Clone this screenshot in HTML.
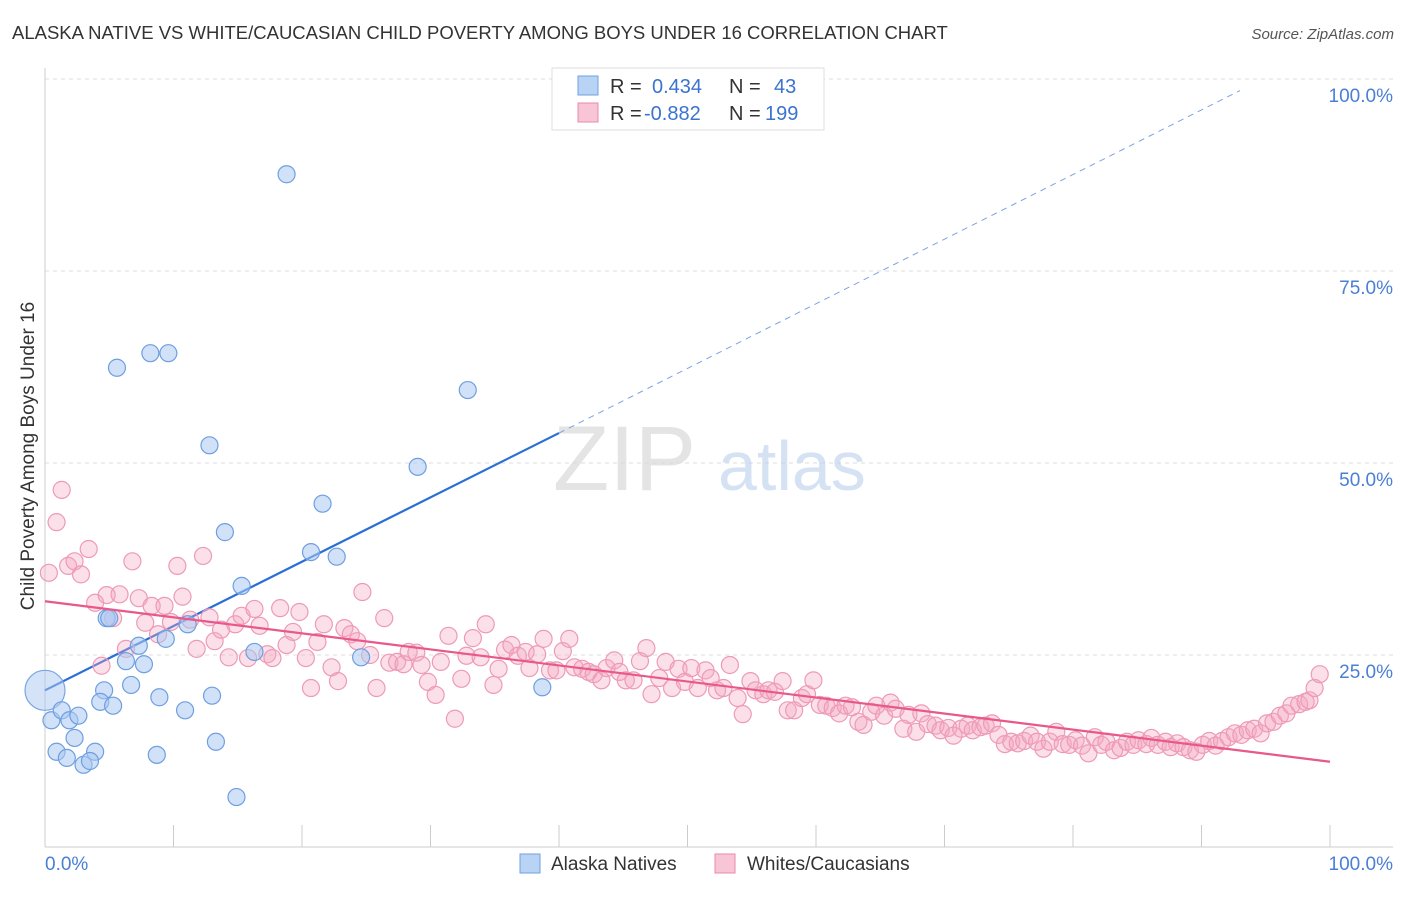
<!DOCTYPE html>
<html><head><meta charset="utf-8">
<style>
body{margin:0;background:#fff;font-family:"Liberation Sans",sans-serif;}
svg text{font-family:"Liberation Sans",sans-serif;}
</style></head>
<body>
<svg id="chart" width="1406" height="892" xmlns="http://www.w3.org/2000/svg">
<text x="12" y="39" font-size="18.5" fill="#333">ALASKA NATIVE VS WHITE/CAUCASIAN CHILD POVERTY AMONG BOYS UNDER 16 CORRELATION CHART</text>
<text x="1394" y="39" font-size="15" fill="#555" text-anchor="end" font-style="italic">Source: ZipAtlas.com</text>
<g id="grid"></g>
<g>
<text x="553" y="490" font-size="92" fill="#d9d9d9" font-family="Liberation Serif" opacity="0.7">ZIP</text>
<text x="718" y="490" font-size="70" fill="#b8cfee" opacity="0.6">atlas</text>
</g>
<g id="lines"></g>
<g id="pts"></g>
<text transform="translate(34,456) rotate(-90)" font-size="19" fill="#333" text-anchor="middle">Child Poverty Among Boys Under 16</text>
<text x="45" y="870" font-size="19" fill="#4a7fd4">0.0%</text>
<text x="1393" y="870" font-size="19" fill="#4a7fd4" text-anchor="end">100.0%</text>
<g>
<rect x="552" y="68" width="272" height="62" fill="#fff" stroke="#ddd"/>
<rect x="578" y="76" width="20" height="19" fill="#b9d3f5" stroke="#6fa0e0"/>
<rect x="578" y="103" width="20" height="19" fill="#f8c5d6" stroke="#e88aa8"/>
<text x="610" y="93" font-size="20" fill="#333">R = </text><text x="652" y="93" font-size="20" fill="#3a73d0">0.434</text>
<text x="729" y="93" font-size="20" fill="#333">N = </text><text x="774" y="93" font-size="20" fill="#3a73d0">43</text>
<text x="610" y="120" font-size="20" fill="#333">R = </text><text x="644" y="120" font-size="20" fill="#3a73d0">-0.882</text>
<text x="729" y="120" font-size="20" fill="#333">N = </text><text x="765" y="120" font-size="20" fill="#3a73d0">199</text>
</g>
<g>
<rect x="520" y="854" width="20" height="19" fill="#b9d3f5" stroke="#6fa0e0"/>
<text x="551" y="870" font-size="19" fill="#333">Alaska Natives</text>
<rect x="715" y="854" width="20" height="19" fill="#f8c5d6" stroke="#e88aa8"/>
<text x="747" y="870" font-size="19" fill="#333">Whites/Caucasians</text>
</g>
</svg>
<script>
const yTicks=[25,50,75,100];
const xTicks=[0,10,20,30,40,50,60,70,80,90,100];
const blueX=[18.8,8.2,9.6,5.6,32.9,12.8,29.0,21.6,14.0,20.7,22.7,15.3,4.8,11.1,9.4,7.3,16.3,24.6,38.7,6.3,7.7,6.7,4.6,8.9,13.0,4.3,5.3,10.9,0.5,1.3,1.9,2.6,2.3,0.9,1.7,3.9,3.0,3.5,8.7,13.3,14.9,5.0];
const blueY=[87.6,64.3,64.3,62.4,59.5,52.3,49.5,44.7,41.0,38.4,37.8,34.0,29.8,29.0,27.1,26.2,25.4,24.7,20.8,24.2,23.8,21.1,20.4,19.5,19.7,18.9,18.4,17.8,16.5,17.8,16.5,17.1,14.2,12.4,11.6,12.4,10.7,11.2,12.0,13.7,6.5,29.8];
const pinkX=[0.3,0.9,1.3,1.8,2.3,2.8,3.4,3.9,4.4,4.8,5.3,5.8,6.3,6.8,7.3,7.8,8.3,8.8,9.3,9.8,10.3,10.7,11.3,11.8,12.3,12.8,13.2,13.7,14.3,14.8,15.3,15.8,16.3,16.7,17.3,17.7,18.3,18.8,19.3,19.8,20.3,20.7,21.2,21.7,22.3,22.8,23.3,23.8,24.3,24.7,25.3,25.8,26.4,26.8,27.4,27.9,28.3,28.9,29.3,29.8,30.4,30.8,31.4,31.9,32.4,32.8,33.3,33.9,34.3,34.9,35.3,35.8,36.3,36.8,37.4,37.7,38.3,38.8,39.3,39.8,40.3,40.8,41.2,41.8,42.3,42.7,43.3,43.7,44.3,44.7,45.2,45.8,46.3,46.8,47.2,47.8,48.3,48.8,49.3,49.8,50.3,50.8,51.4,51.8,52.3,52.8,53.3,53.9,54.3,54.9,55.3,55.9,56.3,56.8,57.4,57.8,58.3,58.9,59.3,59.8,60.3,60.8,61.3,61.8,62.3,62.8,63.3,63.7,64.3,64.7,65.3,65.8,66.2,66.8,67.2,67.8,68.2,68.7,69.3,69.7,70.3,70.7,71.3,71.8,72.2,72.8,73.2,73.7,74.2,74.7,75.2,75.7,76.2,76.7,77.2,77.7,78.2,78.7,79.2,79.7,80.2,80.7,81.2,81.7,82.2,82.6,83.2,83.7,84.2,84.7,85.1,85.7,86.1,86.6,87.2,87.6,88.1,88.6,89.1,89.6,90.1,90.6,91.1,91.6,92.1,92.6,93.1,93.6,94.1,94.6,95.1,95.6,96.1,96.6,97.0,97.6,98.1,98.4,98.8,99.2];
const pinkY=[35.7,42.3,46.5,36.6,37.2,35.5,38.8,31.8,23.6,32.8,29.8,32.9,25.8,37.2,32.4,29.2,31.4,27.7,31.4,29.3,36.6,32.6,29.6,25.8,37.9,29.9,26.8,28.3,24.7,29.0,30.1,24.6,31.0,28.8,25.1,24.6,31.1,26.3,28.0,30.6,24.6,20.7,26.7,29.0,23.4,21.6,28.5,27.7,26.8,33.2,25.0,20.7,29.8,24.0,24.1,23.8,25.4,25.3,23.7,21.5,19.8,24.1,27.5,16.7,21.9,24.9,27.2,24.7,29.0,21.1,23.2,25.7,26.3,24.9,25.4,23.3,25.1,27.1,23.0,23.0,25.5,27.1,23.4,23.2,22.8,22.5,21.7,23.3,24.3,22.8,21.7,21.7,24.2,25.9,19.9,22.0,24.1,20.7,23.2,21.5,23.3,20.7,23.0,22.0,20.4,20.7,23.7,19.4,17.3,21.6,20.4,19.9,20.4,20.2,21.6,17.8,17.8,19.4,19.9,21.7,18.5,18.4,18.1,17.4,18.4,18.2,16.3,15.9,17.6,18.4,17.1,18.8,18.0,15.4,17.2,15.0,17.4,16.0,15.8,15.2,15.5,14.5,15.4,15.8,15.2,15.6,15.8,16.1,14.6,13.4,13.7,13.5,13.8,14.5,13.7,12.8,13.7,15.0,13.4,13.3,13.9,13.2,12.2,14.3,13.3,13.7,12.6,12.9,13.7,13.3,13.9,13.4,14.2,13.3,13.7,13.0,13.5,13.0,12.6,12.4,13.3,13.8,13.2,13.8,14.3,14.8,14.6,15.2,15.4,14.8,16.1,16.3,17.1,17.4,18.4,18.6,18.9,19.1,20.7,22.5];
const blueTrendX=[0,40,93];
const blueTrendY=[20.4,53.9,98.5];
const pinkTrendX=[0,100];
const pinkTrendY=[32.0,11.1];
const NS='http://www.w3.org/2000/svg';
const sx=v=>45+v*12.85, sy=v=>847-v*7.68;
function mk(tag,attrs,parent){const e=document.createElementNS(NS,tag);for(const k in attrs)e.setAttribute(k,attrs[k]);parent.appendChild(e);return e;}
const grid=document.getElementById('grid'),lines=document.getElementById('lines'),pts=document.getElementById('pts');
yTicks.forEach(t=>{
 const l=mk('line',{x1:45,x2:1393,y1:sy(t),y2:sy(t),stroke:'#ddd','stroke-dasharray':'4,4'},grid);
 
 
 const tx=mk('text',{x:1393,y:sy(t)+23,'font-size':19,fill:'#4a7fd4','text-anchor':'end'},grid);
 tx.textContent=t.toFixed(1)+'%';
 
 
});
const ya=mk('line',{x1:45,x2:45,y1:68,y2:847,stroke:'#ccc'},grid);


const xa=mk('line',{x1:45,x2:1393,y1:847,y2:847,stroke:'#ccc'},grid);


xTicks.forEach(t=>{
 const l=mk('line',{x1:sx(t),x2:sx(t),y1:825,y2:847,stroke:'#ccc'},grid);
 
 
});
const bs=mk('line',{x1:sx(blueTrendX[0]),y1:sy(blueTrendY[0]),x2:sx(blueTrendX[1]),y2:sy(blueTrendY[1]),stroke:'#2a6fd6','stroke-width':2.2},lines);


const bd=mk('line',{x1:sx(blueTrendX[1]),y1:sy(blueTrendY[1]),x2:sx(blueTrendX[2]),y2:sy(blueTrendY[2]),stroke:'#7aa3e0','stroke-width':1,'stroke-dasharray':'6,5'},lines);


pinkX.forEach((x,i)=>{
 const c=mk('circle',{cx:sx(x),cy:sy(pinkY[i]),r:8.5,fill:'rgba(244,165,192,0.35)',stroke:'#ee9ab6','stroke-width':1.2},pts);
 
 
});
const big=mk('circle',{cx:sx(0),cy:sy(20.4),r:20,fill:'rgba(170,200,242,0.5)',stroke:'#7aa6e2','stroke-width':1.2},pts);


blueX.forEach((x,i)=>{
 const c=mk('circle',{cx:sx(x),cy:sy(blueY[i]),r:8.5,fill:'rgba(170,200,242,0.55)',stroke:'#6f9fe0','stroke-width':1.2},pts);
 
 
});
const pl=mk('line',{x1:sx(pinkTrendX[0]),y1:sy(pinkTrendY[0]),x2:sx(pinkTrendX[1]),y2:sy(pinkTrendY[1]),stroke:'#e8588a','stroke-width':2.2},pts);


</script>
</body></html>
